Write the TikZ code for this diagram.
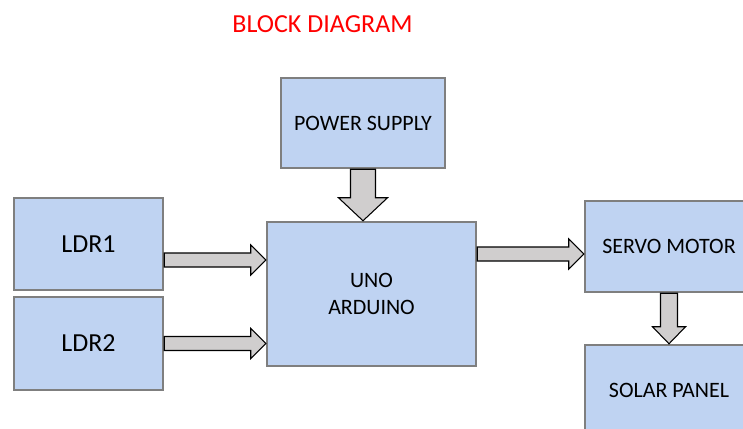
\documentclass[tikz,border=0pt]{standalone}
\usepackage{fontspec}
\setmainfont{Carlito}
\usepackage{tikz}
\usetikzlibrary{calc}
\definecolor{kutuMavi}{HTML}{BFD3F2}
\definecolor{kenarGri}{HTML}{7F7F7F}
\definecolor{okGri}{HTML}{D0CECE}
\definecolor{baslikKirmizi}{HTML}{FF0000}
\tikzset{
  kutu/.style={draw=kenarGri, line width=1.4pt, fill=kutuMavi, align=center, inner sep=0pt,
    font=\fontsize{12.5}{15.3}\selectfont},
  % kalin blok ok: govde yari genisligi, bas yari genisligi, bas boyu
  blokOk/.style n args={3}{draw=black, line width=0.6pt, fill=okGri,
    to path={let \p1=(\tikztostart), \p2=(\tikztotarget),
      \n1={atan2(\y2-\y1,\x2-\x1)}, \n2={veclen(\x2-\x1,\y2-\y1)} in
      ($(\p1)+(\n1+90:#1)$) -- ++(\n1:\n2-#3) -- ++(\n1+90:#2-#1) -- (\p2)
      -- ($(\p1)+(\n1:\n2-#3)+(\n1-90:#2)$) -- ++(\n1+90:#2-#1)
      -- ($(\p1)+(\n1-90:#1)$) -- cycle}},
}

\begin{document}
\begin{tikzpicture}
\clip (0,0) rectangle (14.86,8.56);
\node[baslikKirmizi, font=\fontsize{14.8}{17}\selectfont] (baslik) at (6.45,8.08) {BLOCK DIAGRAM};
\node[kutu, minimum width=3.28cm, minimum height=1.80cm] (power) at (7.26,6.10) {POWER SUPPLY};
\node[kutu, minimum width=4.18cm, minimum height=2.88cm] (uno) at (7.43,2.68) {UNO\\ARDUINO};
\node[kutu, minimum width=2.98cm, minimum height=1.84cm, font=\fontsize{14.8}{17}\selectfont] (ldr1) at (1.77,3.68) {LDR1};
\node[kutu, minimum width=2.98cm, minimum height=1.86cm, font=\fontsize{14.8}{17}\selectfont] (ldr2) at (1.77,1.69) {LDR2};
\node[kutu, minimum width=3.36cm, minimum height=1.82cm] (servo) at (13.38,3.63) {SERVO MOTOR};
\node[kutu, minimum width=3.36cm, minimum height=1.82cm] (solar) at (13.38,0.75) {SOLAR PANEL};

\coordinate (a1) at ($(ldr1.east)+(0,-0.32)$);
\coordinate (a3) at ($(uno.east)+(0,0.80)$);
\draw[blokOk={0.14cm}{0.30cm}{0.30cm}] (a1) to (a1 -| uno.west);
\draw[blokOk={0.14cm}{0.30cm}{0.30cm}] (ldr2.east) to (ldr2.east -| uno.west);
\draw[blokOk={0.14cm}{0.30cm}{0.30cm}] (a3) to (a3 -| servo.west);
\draw[blokOk={0.25cm}{0.49cm}{0.46cm}] (power.south) to (power.south |- uno.north);
\draw[blokOk={0.17cm}{0.33cm}{0.34cm}] (servo.south) to (servo.south |- solar.north);
\end{tikzpicture}
\end{document}
